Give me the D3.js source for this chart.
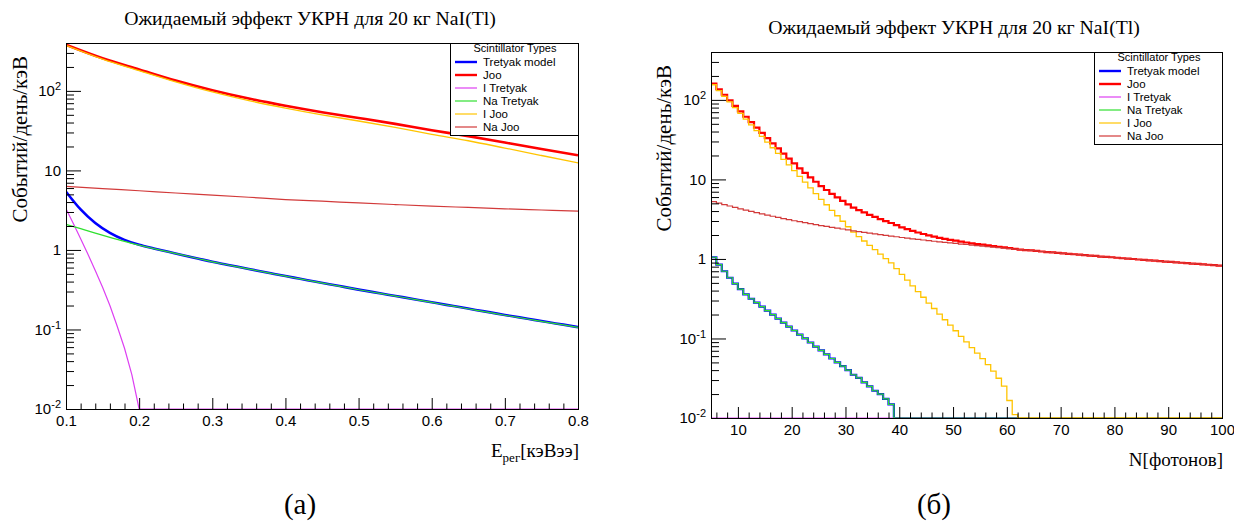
<!DOCTYPE html>
<html>
<head>
<meta charset="utf-8">
<script src="https://cdn.jsdelivr.net/npm/d3@7"></script>
<style>
  body { margin: 0; background: #ffffff; }
  svg { display: block; }
</style>
</head>
<body>
<svg id="chart" width="1234" height="523"></svg>
<script>
// ---------- Panel (а): expected rate vs recoil energy, keVee ----------
const energyFine = [0.10, 0.12, 0.14, 0.16, 0.18, 0.20, 0.22, 0.24, 0.26, 0.28,
                    0.30, 0.32, 0.34, 0.36, 0.38, 0.40, 0.42, 0.44, 0.46, 0.48,
                    0.50, 0.52, 0.54, 0.56, 0.58, 0.60, 0.62, 0.64, 0.66, 0.68,
                    0.70, 0.72, 0.74, 0.76, 0.78, 0.80];
const energyCoarse = [0.10, 0.15, 0.20, 0.25, 0.30, 0.35, 0.40, 0.45, 0.50, 0.55, 0.60, 0.65, 0.70, 0.75, 0.80];
const energyIodine = [0.10, 0.11, 0.12, 0.13, 0.14, 0.15, 0.16, 0.17, 0.18, 0.19, 0.20, 0.80];

const eTretyakModel = [5.4, 3.23, 2.18, 1.64, 1.34, 1.16, 1.045, 0.948, 0.86, 0.781,
                       0.709, 0.653, 0.601, 0.553, 0.509, 0.469, 0.434, 0.401, 0.371, 0.343,
                       0.317, 0.295, 0.274, 0.255, 0.237, 0.22, 0.204, 0.19, 0.176, 0.164,
                       0.152, 0.142, 0.132, 0.123, 0.115, 0.107];
const eITretyak = [3.3, 2.15, 1.38, 0.88, 0.55, 0.34, 0.2, 0.11, 0.058, 0.027, 0, 0];
const eNaTretyak = [2.1, 1.85, 1.63, 1.44, 1.28, 1.15, 1.04, 0.946, 0.859, 0.78,
                    0.708, 0.652, 0.6, 0.552, 0.508, 0.468, 0.433, 0.4, 0.37, 0.342,
                    0.316, 0.294, 0.273, 0.254, 0.236, 0.219, 0.203, 0.189, 0.175, 0.163,
                    0.151, 0.141, 0.131, 0.122, 0.114, 0.106];
const eJoo = [380, 257, 186, 135, 102, 80, 65, 54, 45.7, 38.5, 32, 27, 22.4, 18.6, 15.5];
const eIJoo = [374, 251, 180, 130, 97, 75.4, 60.7, 49.9, 41.8, 34.8, 28.4, 23.6, 19.1, 15.4, 12.4];
const eNaJoo = [6.3, 5.9, 5.55, 5.2, 4.9, 4.6, 4.3, 4.1, 3.9, 3.72, 3.56, 3.42, 3.29, 3.18, 3.08];

// ---------- Panel (б): expected rate vs number of photons (1-photon bins, 5..100) ----------
const photonBinLow = d3.range(5, 100);
const nTretyakModel = [
  1.05, 0.85, 0.70, 0.58, 0.49, 0.417, 0.359, 0.316, 0.282, 0.251,
  0.224, 0.200, 0.178, 0.158, 0.141, 0.126, 0.112, 0.100, 0.089, 0.079,
  0.071, 0.063, 0.056, 0.050, 0.045, 0.040, 0.035, 0.032, 0.028, 0.025,
  0.022, 0.020, 0.0174, 0.0148, 0, 0, 0, 0, 0, 0,
  0, 0, 0, 0, 0, 0, 0, 0, 0, 0,
  0, 0, 0, 0, 0, 0, 0, 0, 0, 0,
  0, 0, 0, 0, 0, 0, 0, 0, 0, 0,
  0, 0, 0, 0, 0, 0, 0, 0, 0, 0,
  0, 0, 0, 0, 0, 0, 0, 0, 0, 0,
  0, 0, 0, 0, 0];
const nITretyak = [
  0, 0, 0, 0, 0, 0, 0, 0, 0, 0,
  0, 0, 0, 0, 0, 0, 0, 0, 0, 0,
  0, 0, 0, 0, 0, 0, 0, 0, 0, 0,
  0, 0, 0, 0, 0, 0, 0, 0, 0, 0,
  0, 0, 0, 0, 0, 0, 0, 0, 0, 0,
  0, 0, 0, 0, 0, 0, 0, 0, 0, 0,
  0, 0, 0, 0, 0, 0, 0, 0, 0, 0,
  0, 0, 0, 0, 0, 0, 0, 0, 0, 0,
  0, 0, 0, 0, 0, 0, 0, 0, 0, 0,
  0, 0, 0, 0, 0];
const nNaTretyak = [
  1.05, 0.85, 0.70, 0.58, 0.49, 0.417, 0.359, 0.316, 0.282, 0.251,
  0.224, 0.200, 0.178, 0.158, 0.141, 0.126, 0.112, 0.100, 0.089, 0.079,
  0.071, 0.063, 0.056, 0.050, 0.045, 0.040, 0.035, 0.032, 0.028, 0.025,
  0.022, 0.020, 0.0174, 0.0148, 0, 0, 0, 0, 0, 0,
  0, 0, 0, 0, 0, 0, 0, 0, 0, 0,
  0, 0, 0, 0, 0, 0, 0, 0, 0, 0,
  0, 0, 0, 0, 0, 0, 0, 0, 0, 0,
  0, 0, 0, 0, 0, 0, 0, 0, 0, 0,
  0, 0, 0, 0, 0, 0, 0, 0, 0, 0,
  0, 0, 0, 0, 0];
const nJoo = [
  160.2, 136.0, 116.0, 98.8, 84.3, 71.9, 61.4, 52.5, 44.9, 38.5,
  33.1, 28.4, 24.5, 21.1, 18.3, 15.9, 13.8, 12.1, 10.6, 9.34,
  8.25, 7.36, 6.59, 5.93, 5.36, 4.86, 4.43, 4.12, 3.84, 3.59,
  3.38, 3.17, 2.99, 2.83, 2.66, 2.50, 2.37, 2.25, 2.15, 2.06,
  1.98, 1.91, 1.84, 1.79, 1.74, 1.70, 1.65, 1.61, 1.57, 1.54,
  1.51, 1.48, 1.45, 1.42, 1.40, 1.37, 1.34, 1.31, 1.29, 1.28,
  1.26, 1.24, 1.22, 1.21, 1.19, 1.175, 1.16, 1.145, 1.13, 1.12,
  1.10, 1.09, 1.07, 1.06, 1.05, 1.035, 1.02, 1.01, 0.998, 0.984,
  0.973, 0.962, 0.95, 0.938, 0.927, 0.916, 0.906, 0.895, 0.885, 0.875,
  0.865, 0.855, 0.845, 0.836, 0.826];
const nIJoo = [
  155, 131, 111, 94.2, 79.8, 67.6, 57.3, 48.5, 41.1, 34.8,
  29.5, 25.0, 21.2, 17.9, 15.2, 12.9, 10.9, 9.25, 7.83, 6.64,
  5.62, 4.80, 4.09, 3.49, 2.98, 2.54, 2.17, 1.91, 1.68, 1.48,
  1.31, 1.15, 1.01, 0.891, 0.755, 0.640, 0.542, 0.459, 0.389, 0.330,
  0.279, 0.238, 0.202, 0.172, 0.147, 0.125, 0.106, 0.0904, 0.0769, 0.0655,
  0.0557, 0.0468, 0.0389, 0.0316, 0.0251, 0.0166, 0.011, 0, 0, 0,
  0, 0, 0, 0, 0, 0, 0, 0, 0, 0,
  0, 0, 0, 0, 0, 0, 0, 0, 0, 0,
  0, 0, 0, 0, 0, 0, 0, 0, 0, 0,
  0, 0, 0, 0, 0];
const nNaJoo = [
  5.25, 5.04, 4.83, 4.63, 4.45, 4.27, 4.11, 3.96, 3.82, 3.68,
  3.55, 3.44, 3.33, 3.22, 3.12, 3.02, 2.94, 2.86, 2.78, 2.70,
  2.63, 2.56, 2.50, 2.44, 2.38, 2.32, 2.26, 2.21, 2.16, 2.11,
  2.07, 2.02, 1.98, 1.94, 1.90, 1.86, 1.83, 1.79, 1.76, 1.73,
  1.70, 1.67, 1.64, 1.62, 1.59, 1.57, 1.54, 1.52, 1.49, 1.47,
  1.45, 1.43, 1.41, 1.39, 1.37, 1.35, 1.33, 1.31, 1.29, 1.28,
  1.26, 1.24, 1.22, 1.21, 1.19, 1.175, 1.16, 1.145, 1.13, 1.12,
  1.10, 1.09, 1.07, 1.06, 1.05, 1.035, 1.02, 1.01, 0.998, 0.984,
  0.973, 0.962, 0.95, 0.938, 0.927, 0.916, 0.906, 0.895, 0.885, 0.875,
  0.865, 0.855, 0.845, 0.836, 0.826];

// ---------- Labels ----------
const seriesNames = ["Tretyak model", "Joo", "I Tretyak", "Na Tretyak", "I Joo", "Na Joo"];
const legendTitle = "Scintillator Types";
const plotTitle = "Ожидаемый эффект УКРН для 20 кг NaI(Tl)";
const yTitle = "Событий/день/кэВ";
const energyTicks = [0.1, 0.2, 0.3, 0.4, 0.5, 0.6, 0.7, 0.8];
const photonTicks = [10, 20, 30, 40, 50, 60, 70, 80, 90, 100];
const logTicks = [0.01, 0.1, 1, 10, 100];

// ---------- Styles ----------
const seriesStyle = {
  "Tretyak model": { color: "#0000ff", width: 2.6 },
  "Joo":           { color: "#ff0000", width: 2.6 },
  "I Tretyak":     { color: "#dd3ff2", width: 1.2 },
  "Na Tretyak":    { color: "#2fe02f", width: 1.2 },
  "I Joo":         { color: "#ffc400", width: 1.3 },
  "Na Joo":        { color: "#d23a3a", width: 1.2 }
};
const SERIF = "'Liberation Serif', 'DejaVu Serif', serif";
const SANS = "'Liberation Sans', Arial, sans-serif";
const Y_MIN = 0.01, Y_MAX = 400;

const svg = d3.select("#chart");

const panels = [
  {
    id: "a", left: 66, top: 43, width: 512, height: 366,
    xDomain: [0.1, 0.8], xTicks: energyTicks,
    xMinor: d3.range(0.12, 0.8, 0.02).filter(v => Math.abs(v * 10 - Math.round(v * 10)) > 1e-6),
    xFormat: d3.format(".1f"), histogram: false,
    series: [
      ["Tretyak model", energyFine, eTretyakModel, d3.curveMonotoneX],
      ["Joo", energyCoarse, eJoo, d3.curveMonotoneX],
      ["I Tretyak", energyIodine, eITretyak, d3.curveLinear],
      ["Na Tretyak", energyFine, eNaTretyak, d3.curveMonotoneX],
      ["I Joo", energyCoarse, eIJoo, d3.curveMonotoneX],
      ["Na Joo", energyCoarse, eNaJoo, d3.curveMonotoneX]
    ],
    title: { x: 310, y: 25 },
    yTitleX: 27,
    xTitle: [{ t: "E", size: 19 }, { t: "рег", size: 13, dy: 5 }, { t: "[кэВээ]", size: 19, dy: -5 }],
    xTitleY: 457,
    tag: "(а)", tagX: 300
  },
  {
    id: "b", left: 711, top: 52, width: 511, height: 366,
    xDomain: [5, 100], xTicks: photonTicks,
    xMinor: d3.range(6, 100, 2).filter(v => v % 10 !== 0),
    xFormat: d3.format("d"), histogram: true,
    series: [
      ["Tretyak model", photonBinLow, nTretyakModel, d3.curveStepAfter],
      ["Joo", photonBinLow, nJoo, d3.curveStepAfter],
      ["I Tretyak", photonBinLow, nITretyak, d3.curveStepAfter],
      ["Na Tretyak", photonBinLow, nNaTretyak, d3.curveStepAfter],
      ["I Joo", photonBinLow, nIJoo, d3.curveStepAfter],
      ["Na Joo", photonBinLow, nNaJoo, d3.curveStepAfter]
    ],
    title: { x: 954, y: 34 },
    yTitleX: 671,
    xTitle: [{ t: "N[фотонов]", size: 19 }],
    xTitleY: 466,
    tag: "(б)", tagX: 934
  }
];

const yMinor = [];
[0.01, 0.1, 1, 10, 100].forEach(d => {
  for (let k = 2; k <= 9; k++) if (k * d <= Y_MAX) yMinor.push(k * d);
});

function logLabel(sel) {
  sel.each(function (v) {
    const t = d3.select(this);
    t.text(null);
    const e = Math.round(Math.log10(v));
    if (e === 0) { t.text("1"); return; }
    if (e === 1) { t.text("10"); return; }
    t.append("tspan").text("10");
    t.append("tspan").attr("dy", "-0.55em").attr("font-size", 11).text(String(e));
  });
}

panels.forEach(p => {
  const g = svg.append("g").attr("id", "panel-" + p.id);
  const x = d3.scaleLinear().domain(p.xDomain).range([p.left, p.left + p.width]);
  const y = d3.scaleLog().domain([Y_MIN, Y_MAX]).range([p.top + p.height, p.top]);

  // clip region for curves
  const clipId = "clip-" + p.id;
  svg.append("defs").append("clipPath").attr("id", clipId)
    .append("rect")
    .attr("x", p.left).attr("y", p.top)
    .attr("width", p.width).attr("height", p.height + 1);

  // curves / histograms
  const yv = v => y(Math.max(v, Y_MIN));
  const plot = g.append("g").attr("clip-path", `url(#${clipId})`);
  p.series.forEach(([name, xs, vals, curve]) => {
    const pts = xs.map((xv, i) => [xv, vals[i]]);
    if (p.histogram) pts.push([p.xDomain[1], vals[vals.length - 1]]);
    const gen = d3.line().x(d => x(d[0])).y(d => yv(d[1])).curve(curve);
    const st = seriesStyle[name];
    plot.append("path")
      .attr("d", gen(pts))
      .attr("fill", "none")
      .attr("stroke", st.color)
      .attr("stroke-width", p.histogram && st.width > 2 ? 2.2 : st.width)
      .attr("stroke-linejoin", p.histogram ? "miter" : "round");
  });

  // x axis: major ticks with labels, minor ticks
  const xBase = p.top + p.height;
  g.append("g").attr("transform", `translate(0,${xBase})`)
    .call(d3.axisBottom(x).tickValues(p.xTicks).tickSize(-11).tickPadding(6).tickFormat(p.xFormat))
    .call(a => a.select(".domain").remove())
    .call(a => a.selectAll("line").attr("stroke", "#000"))
    .call(a => a.selectAll("text").attr("font-family", SANS).attr("font-size", 15).attr("fill", "#000"));
  g.append("g").attr("transform", `translate(0,${xBase})`)
    .call(d3.axisBottom(x).tickValues(p.xMinor).tickSize(-5.5).tickFormat(() => ""))
    .call(a => a.select(".domain").remove())
    .call(a => a.selectAll("line").attr("stroke", "#000"));

  // y axis (log): decades labelled, 2..9 minor ticks
  g.append("g").attr("transform", `translate(${p.left},0)`)
    .call(d3.axisLeft(y).tickValues(logTicks).tickSize(-15).tickPadding(5).tickFormat(d => d))
    .call(a => a.select(".domain").remove())
    .call(a => a.selectAll("line").attr("stroke", "#000"))
    .call(a => a.selectAll("text").attr("font-family", SANS).attr("font-size", 15).attr("fill", "#000").call(logLabel));
  g.append("g").attr("transform", `translate(${p.left},0)`)
    .call(d3.axisLeft(y).tickValues(yMinor).tickSize(-8).tickFormat(() => ""))
    .call(a => a.select(".domain").remove())
    .call(a => a.selectAll("line").attr("stroke", "#000"));

  // frame
  g.append("rect")
    .attr("x", p.left + 0.5).attr("y", p.top + 0.5)
    .attr("width", p.width).attr("height", p.height)
    .attr("fill", "none").attr("stroke", "#000").attr("stroke-width", 1);

  // legend
  const lw = 128, lh = 92;
  const lx = p.left + p.width - lw, ly = p.top;
  const lg = g.append("g").attr("transform", `translate(${lx},${ly})`);
  lg.append("rect").attr("x", 0.5).attr("y", 0.5).attr("width", lw).attr("height", lh)
    .attr("fill", "#fff").attr("stroke", "#000").attr("stroke-width", 1);
  lg.append("text").attr("x", lw / 2 + 1).attr("y", 9).attr("text-anchor", "middle")
    .attr("font-family", SANS).attr("font-size", 11).text(legendTitle);
  seriesNames.forEach((name, i) => {
    const cy = 19 + i * 13;
    const st = seriesStyle[name];
    lg.append("line").attr("x1", 5).attr("x2", 27).attr("y1", cy).attr("y2", cy)
      .attr("stroke", st.color).attr("stroke-width", st.width > 2 ? 2.4 : 1.2);
    lg.append("text").attr("x", 33).attr("y", cy + 4)
      .attr("font-family", SANS).attr("font-size", 11.5).text(name);
  });

  // title, fitted to a fixed width
  const tt = svg.append("text").attr("x", p.title.x).attr("y", p.title.y)
    .attr("text-anchor", "middle").attr("font-family", SERIF).attr("font-size", 20)
    .text(plotTitle);
  const tl = tt.node().getComputedTextLength();
  tt.attr("font-size", 20 * 372 / tl);

  // y title
  svg.append("text")
    .attr("transform", `translate(${p.yTitleX},${p.top + 13}) rotate(-90)`)
    .attr("text-anchor", "end").attr("font-family", SERIF).attr("font-size", 21)
    .text(yTitle);

  // x title
  const xt = svg.append("text").attr("x", p.left + p.width + 1).attr("y", p.xTitleY)
    .attr("text-anchor", "end").attr("font-family", SERIF);
  p.xTitle.forEach(part => {
    const s = xt.append("tspan").attr("font-size", part.size).text(part.t);
    if (part.dy) s.attr("dy", part.dy);
  });

  // panel tag
  svg.append("text").attr("x", p.tagX).attr("y", 514).attr("text-anchor", "middle")
    .attr("font-family", SERIF).attr("font-size", 29).text(p.tag);
});
</script>
</body>
</html>
